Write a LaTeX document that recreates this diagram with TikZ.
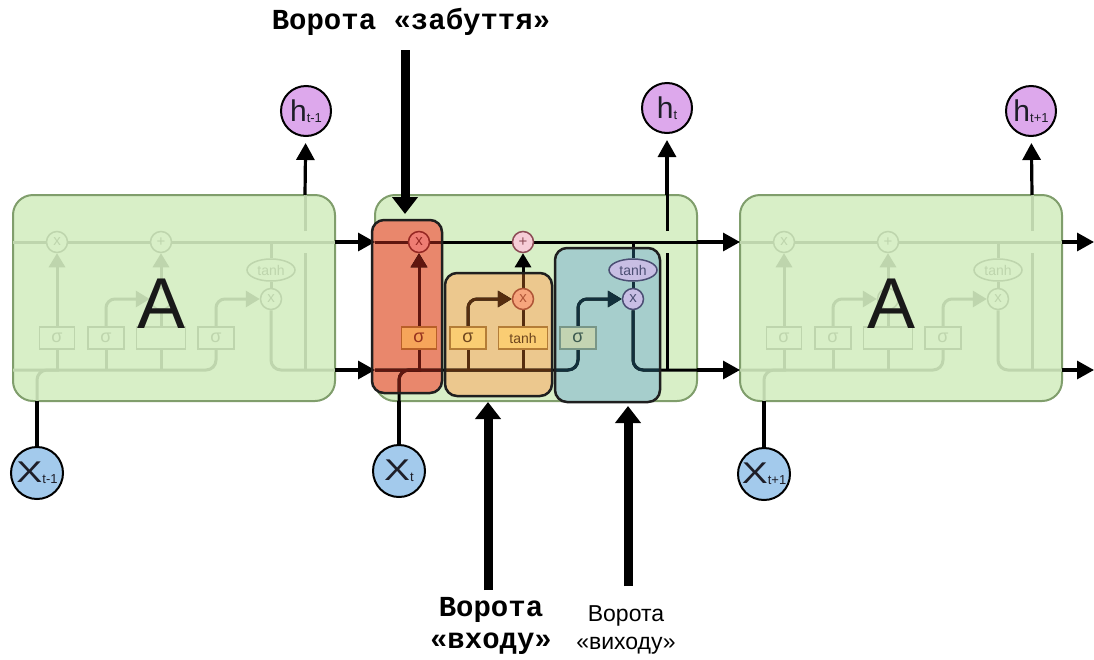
\documentclass[tikz,border=0pt]{standalone}
\usepackage{fontspec}
\setmainfont{Liberation Sans}
\newfontfamily\gatefont{Liberation Mono}
\usetikzlibrary{arrows.meta,shapes.geometric}

\pgfdeclarelayer{cellbg}
\pgfdeclarelayer{gatefill}
\pgfdeclarelayer{wires}
\pgfdeclarelayer{wiretint}
\pgfdeclarelayer{front}
\pgfsetlayers{cellbg,gatefill,wires,wiretint,main,front}

% palette
\definecolor{cellfill}{RGB}{216,239,199}
\definecolor{cellline}{RGB}{128,158,108}
\definecolor{faintline}{RGB}{190,213,173}
\definecolor{hcol}{RGB}{221,168,236}
\definecolor{xcol}{RGB}{163,202,236}
\definecolor{textdark}{RGB}{30,30,40}
\definecolor{forgetfill}{RGB}{233,135,108}
\definecolor{inputfill}{RGB}{236,200,142}
\definecolor{outputfill}{RGB}{166,206,204}
\definecolor{forgettint}{RGB}{95,22,15}
\definecolor{inputtint}{RGB}{85,45,15}
\definecolor{outputtint}{RGB}{18,48,60}
\definecolor{fxfill}{RGB}{238,125,115}
\definecolor{fxline}{RGB}{150,40,35}
\definecolor{addfill}{RGB}{246,205,215}
\definecolor{addline}{RGB}{140,75,85}
\definecolor{fsfill}{RGB}{246,165,90}
\definecolor{fsline}{RGB}{185,95,40}
\definecolor{fstext}{RGB}{150,50,30}
\definecolor{ibfill}{RGB}{250,205,115}
\definecolor{ibline}{RGB}{180,125,55}
\definecolor{ibtext}{RGB}{110,70,30}
\definecolor{ixfill}{RGB}{246,165,125}
\definecolor{ixline}{RGB}{175,85,55}
\definecolor{osfill}{RGB}{195,212,178}
\definecolor{osline}{RGB}{120,150,135}
\definecolor{ostext}{RGB}{60,90,80}
\definecolor{oxfill}{RGB}{200,190,228}
\definecolor{oxline}{RGB}{75,78,115}

\tikzset{
  wire/.style={line width=3pt, draw=black},
  wtip/.style={-{Triangle[width=16pt,length=14pt]}},
  link/.style={line width=3.2pt, draw=black},
  conn/.style={line width=3.2pt, draw=black, -{Triangle[width=18pt,length=17pt]}},
  bigarrow/.style={line width=9pt, draw=black, -{Triangle[width=25pt,length=17pt]}},
  cellbox/.style={rectangle, rounded corners=20pt, minimum width=322pt,
    minimum height=206pt, fill=cellfill, draw=cellline, line width=2pt},
  opbox/.style={rectangle, minimum height=22pt, inner sep=0pt, line width=1.5pt,
    font=\fontsize{18}{18}\selectfont},
  pw/.style={circle, minimum size=21pt, inner sep=0pt, line width=1.5pt,
    font=\fontsize{15}{15}\selectfont},
  tanhell/.style={ellipse, minimum width=48pt, minimum height=22pt, inner sep=0pt,
    line width=1.5pt, font=\fontsize{14}{14}\selectfont},
  hnode/.style={circle, minimum size=50pt, inner sep=0pt, fill=hcol, draw=black,
    line width=2pt, text=textdark},
  xnode/.style={circle, minimum size=52pt, inner sep=0pt, fill=xcol, draw=black,
    line width=2pt, text=textdark},
  gatebox/.style={rounded corners=12pt},
  gateborder/.style={gatebox, draw=black!88, line width=2.5pt},
  bigA/.style={font=\fontsize{72}{72}\selectfont, text=black!90},
  monolabel/.style={font=\gatefont\bfseries\fontsize{29}{32}\selectfont, align=center, inner sep=0pt},
  sanslabel/.style={font=\fontsize{23}{28}\selectfont, align=center, inner sep=0pt},
  % element looks of the highlighted cell
  mid-fx/.style={fill=fxfill, draw=fxline, text=fxline},
  mid-add/.style={fill=addfill, draw=addline, text=addline},
  mid-fs/.style={fill=fsfill, draw=fsline, text=fstext},
  mid-is/.style={fill=ibfill, draw=ibline, text=ibtext},
  mid-tb/.style={fill=ibfill, draw=ibline, text=ibtext},
  mid-ix/.style={fill=ixfill, draw=ixline, text=ixline},
  mid-os/.style={fill=osfill, draw=osline, text=ostext},
  mid-ox/.style={fill=oxfill, draw=oxline, text=oxline},
  mid-ot/.style={fill=oxfill, draw=oxline, text=oxline},
  % faded look of the neighbouring cells
  dimel/.style={fill=none, draw=faintline, text=faintline},
  dim-fx/.style={dimel}, dim-add/.style={dimel}, dim-fs/.style={dimel},
  dim-is/.style={dimel}, dim-tb/.style={dimel}, dim-ix/.style={dimel},
  dim-os/.style={dimel}, dim-ox/.style={dimel}, dim-ot/.style={dimel},
}

% subscripted circle labels
\newcommand\bigsym[2]{{\fontsize{30}{30}\selectfont #1}\raisebox{-1pt}{\fontsize{13}{13}\selectfont #2}}
\newcommand\wideX{\scalebox{1.3}[1]{X}}

% #1 prefix, #2 left edge of the cell, #3 look (mid/dim),
% #4 text of the tanh box, #5 text of the input multiplier
\newcommand\cellnodes[5]{%
  \begin{scope}[shift={(#2,0)}]
    \coordinate (#1cl) at (0,242);
    \coordinate (#1cr) at (322,242);
    \coordinate (#1hl) at (0,370);
    \coordinate (#1hr) at (322,370);
    \coordinate (#1xb) at (24,401);
    \coordinate (#1xj) at (46,370);
    \coordinate (#1hb) at (292,370);
    \coordinate (#1hgl) at (292,253);
    \coordinate (#1hgu) at (292,231);
    \coordinate (#1ht) at (292,195);
    \node[pw, #3-fx] (#1fx) at (44,242) {x};
    \node[pw, #3-add] (#1add) at (148,242) {+};
    \node[opbox, minimum width=35pt, #3-fs] (#1fs) at (44,338) {σ};
    \node[opbox, minimum width=36pt, #3-is] (#1is) at (93,338) {σ};
    \node[opbox, minimum width=49pt, #3-tb] (#1tb) at (148,338) {\fontsize{14}{14}\selectfont #4};
    \node[pw, #3-ix] (#1ix) at (148,299) {#5};
    \node[opbox, minimum width=36pt, #3-os] (#1os) at (203,338) {σ};
    \node[pw, #3-ox] (#1ox) at (258,299) {x};
    \node[tanhell, #3-ot] (#1ot) at (258,270) {tanh};
  \end{scope}}

% wiring inside one cell
\newcommand\celllines[1]{%
  \draw[wire] (#1cl) -- (#1fx) -- (#1add) -- (#1cr);
  \draw[wire, rounded corners=10pt] (#1hl) -| (#1os.south);
  \draw[wire, rounded corners=10pt] (#1xb) |- (#1xj);
  \draw[wire] (#1fs.south) -- (#1fs.south |- #1hl);
  \draw[wire] (#1is.south) -- (#1is.south |- #1hl);
  \draw[wire] (#1tb.south) -- (#1tb.south |- #1hl);
  \draw[wire, wtip] (#1fs.north) -- (#1fx.south);
  \draw[wire, wtip, rounded corners=9pt] (#1is.north) |- (#1ix.west);
  \draw[wire] (#1tb.north) -- (#1ix.south);
  \draw[wire, wtip] (#1ix.north) -- (#1add.south);
  \draw[wire, wtip, rounded corners=9pt] (#1os.north) |- (#1ox.west);
  \draw[wire] (#1ot.north |- #1cl) -- (#1ot.north);
  \draw[wire] (#1ot.south) -- (#1ox.north);
  \draw[wire, rounded corners=10pt] (#1ox.south) |- (#1hr);
  \draw[wire] (#1hb) -- (#1hgl);
  \draw[wire] (#1hgu) -- (#1ht);}

% links between the middle cell and its neighbours
\newcommand\midlinks{%
  \draw[link] (x0) -- (Mxb);
  \draw[conn] (Lcr) -- (Mcl);
  \draw[conn] (Lhr) -- (Mhl);}

\begin{document}
\begin{tikzpicture}[x=1pt, y=-1pt]
  \useasboundingbox (0,0) rectangle (1094,659);

  \begin{pgfonlayer}{cellbg}
    \fill[white] (0,0) rectangle (1094,659);
    \node[cellbox] (Lcell) at (174,298) {};
    \node[cellbox] (Mcell) at (536,298) {};
    \node[cellbox] (Rcell) at (901,298) {};
  \end{pgfonlayer}

  % gate regions of the middle cell
  \coordinate (fgA) at (372,220); \coordinate (fgB) at (442,393);
  \coordinate (igA) at (445,273); \coordinate (igB) at (552,396);
  \coordinate (ogA) at (555,248); \coordinate (ogB) at (660,402);
  \begin{pgfonlayer}{gatefill}
    \fill[gatebox, forgetfill] (fgA) rectangle (fgB);
    \fill[gatebox, inputfill] (igA) rectangle (igB);
    \fill[gatebox, outputfill] (ogA) rectangle (ogB);
  \end{pgfonlayer}

  % cell contents
  \cellnodes{L}{13}{dim}{}{}
  \cellnodes{M}{375}{mid}{tanh}{x}
  \cellnodes{R}{740}{dim}{}{}

  % inputs and outputs
  \node[xnode] (xm1) at (37,473) {\bigsym{\wideX}{t-1}};
  \node[xnode] (x0) at (399,471) {\bigsym{\wideX}{t}};
  \node[xnode] (xp1) at (764,474) {\bigsym{\wideX}{t+1}};
  \node[hnode] (hm1) at (306,111) {\bigsym{h}{t-1}};
  \node[hnode] (h0) at (667,108) {\bigsym{h}{t}};
  \node[hnode] (hp1) at (1031,111) {\bigsym{h}{t+1}};

  \coordinate (cOut) at (1094,242);
  \coordinate (hOut) at (1094,370);

  \begin{pgfonlayer}{wires}
    \begin{scope}[wire/.append style={draw=faintline}]
      \celllines{L}
      \celllines{R}
    \end{scope}
    \celllines{M}
    \midlinks
    \draw[link] (xm1) -- (Lxb);
    \draw[link] (xp1) -- (Rxb);
    \draw[conn, shorten >=6pt] (Lht) -- (hm1);
    \draw[conn, shorten >=6pt] (Mht) -- (h0);
    \draw[conn, shorten >=6pt] (Rht) -- (hp1);
    \draw[conn] (Mcr) -- (Rcl);
    \draw[conn] (Mhr) -- (Rhl);
    \draw[conn] (Rcr) -- (cOut);
    \draw[conn] (Rhr) -- (hOut);
  \end{pgfonlayer}

  % wires seen through the coloured gate regions
  \begin{pgfonlayer}{wiretint}
    \begin{scope}
      \clip[gatebox] (fgA) rectangle (fgB);
      \begin{scope}[wire/.append style={draw=forgettint}, link/.append style={draw=forgettint}, conn/.append style={draw=forgettint}]
        \celllines{M}\midlinks
      \end{scope}
    \end{scope}
    \begin{scope}
      \clip[gatebox] (igA) rectangle (igB);
      \begin{scope}[wire/.append style={draw=inputtint}]
        \celllines{M}
      \end{scope}
    \end{scope}
    \begin{scope}
      \clip[gatebox] (ogA) rectangle (ogB);
      \begin{scope}[wire/.append style={draw=outputtint}]
        \celllines{M}
      \end{scope}
    \end{scope}
  \end{pgfonlayer}

  \begin{pgfonlayer}{front}
    \draw[gateborder] (fgA) rectangle (fgB);
    \draw[gateborder] (igA) rectangle (igB);
    \draw[gateborder] (ogA) rectangle (ogB);
    \node[bigA] (LA) at (162,304) {A};
    \node[bigA] (RA) at (891,304) {A};

    % gate labels and their pointers
    \node[monolabel] (lf) at (411,22) {Ворота «забуття»};
    \node[monolabel] (li) at (491,626) {Ворота\\«входу»};
    \node[sanslabel] (lo) at (626,630) {Ворота\\«виходу»};
    \coordinate (fa) at (405,50);  \coordinate (fat) at (405,214);
    \coordinate (ia) at (488,590); \coordinate (iat) at (488,402);
    \coordinate (oa) at (628,586); \coordinate (oat) at (628,406);
    \draw[bigarrow] (fa) -- (fat);
    \draw[bigarrow] (ia) -- (iat);
    \draw[bigarrow] (oa) -- (oat);
  \end{pgfonlayer}
\end{tikzpicture}
\end{document}
